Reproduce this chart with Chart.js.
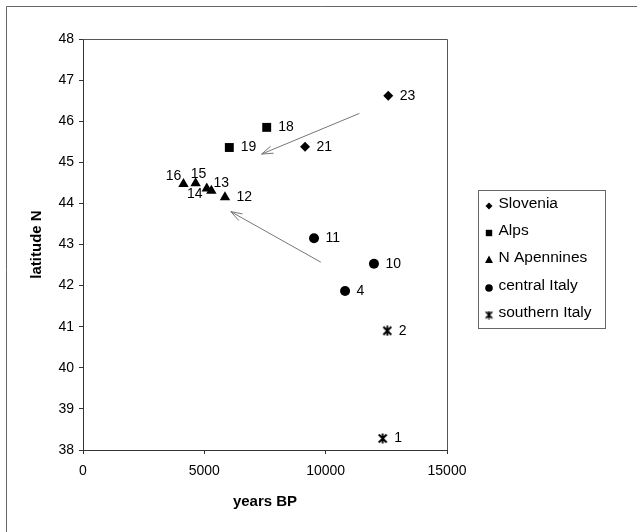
<!DOCTYPE html>
<html>
<head>
<meta charset="utf-8">
<script src="https://cdn.jsdelivr.net/npm/chart.js@4.4.1/dist/chart.umd.min.js"></script>
<style>
	html, body { margin: 0; padding: 0; background: #fff; }
</style>
</head>
<body>
<canvas id="latChart" width="637" height="532"></canvas>
<script>
// series: years BP (x) against latitude N (y), with site numbers
const sloveniaX = [12580, 9150];
const sloveniaY = [46.62, 45.38];
const sloveniaIds = ['23', '21'];

const alpsX = [7570, 6030];
const alpsY = [45.85, 45.36];
const alpsIds = ['18', '19'];

const apenninesX = [5850, 5290, 5100, 4640, 4140];
const apenninesY = [44.15, 44.31, 44.36, 44.49, 44.47];
const apenninesIds = ['12', '13', '14', '15', '16'];

const centralX = [9520, 11990, 10800];
const centralY = [43.15, 42.53, 41.87];
const centralIds = ['11', '10', '4'];

const southX = [12540, 12350];
const southY = [40.9, 38.28];
const southIds = ['2', '1'];

// trend arrows (data units), tail -> head
const arrowTailX = [11390, 9800];
const arrowTailY = [46.19, 42.57];
const arrowHeadX = [7360, 6090];
const arrowHeadY = [45.2, 43.8];

const FONT = "'Liberation Sans', Arial, sans-serif";

// asterisk marker for southern Italy
function makeStar(size, lw) {
	const c = document.createElement('canvas');
	c.width = size;
	c.height = size;
	const g = c.getContext('2d');
	g.strokeStyle = '#000';
	g.lineWidth = lw;
	const m = size / 2;
	const d = size * 0.36;
	g.beginPath();
	g.moveTo(m - d, m - d); g.lineTo(m + d, m + d);
	g.moveTo(m + d, m - d); g.lineTo(m - d, m + d);
	g.moveTo(m, 0.5); g.lineTo(m, size - 0.5);
	g.stroke();
	return c;
}
const starBig = makeStar(11, 1.9);
const starSmall = makeStar(9, 1.7);

function toPoints(xs, ys) {
	return xs.map((x, i) => ({ x: x, y: ys[i] }));
}

const seriesDefs = [
	{ label: 'Slovenia', xs: sloveniaX, ys: sloveniaY, ids: sloveniaIds, style: 'rectRot', radius: 5 },
	{ label: 'Alps', xs: alpsX, ys: alpsY, ids: alpsIds, style: 'rect', radius: 6.3 },
	{ label: 'N Apennines', xs: apenninesX, ys: apenninesY, ids: apenninesIds, style: 'triangle', radius: 6 },
	{ label: 'central Italy', xs: centralX, ys: centralY, ids: centralIds, style: 'circle', radius: 5 },
	{ label: 'southern Italy', xs: southX, ys: southY, ids: southIds, style: starBig, radius: 5 },
];

// where a site number sits relative to its marker (default: to the right)
const labelPlacement = {
	'16': [-10, -8, 'center'],
	'15': [3, -9, 'center'],
	'14': [-12, 6, 'center'],
	'13': [10, -8, 'center'],
};

const pointLabels = {
	id: 'pointLabels',
	afterDatasetsDraw(chart) {
		const ctx = chart.ctx;
		ctx.save();
		ctx.fillStyle = '#000';
		ctx.font = '14px ' + FONT;
		ctx.textBaseline = 'middle';
		chart.data.datasets.forEach((ds, di) => {
			const meta = chart.getDatasetMeta(di);
			meta.data.forEach((pt, i) => {
				const id = ds.ids[i];
				const p = labelPlacement[id] || [11.5, 0, 'left'];
				ctx.textAlign = p[2];
				ctx.fillText(id, pt.x + p[0], pt.y + p[1]);
			});
		});
		ctx.restore();
	},
};

const arrows = {
	id: 'arrows',
	afterDatasetsDraw(chart) {
		const ctx = chart.ctx;
		const xs = chart.scales.x;
		const ys = chart.scales.y;
		ctx.save();
		ctx.strokeStyle = '#777';
		ctx.lineWidth = 1;
		for (let i = 0; i < arrowTailX.length; i++) {
			const x0 = xs.getPixelForValue(arrowTailX[i]);
			const y0 = ys.getPixelForValue(arrowTailY[i]);
			const x1 = xs.getPixelForValue(arrowHeadX[i]);
			const y1 = ys.getPixelForValue(arrowHeadY[i]);
			const a = Math.atan2(y0 - y1, x0 - x1);
			const len = 12;
			const spread = 0.32;
			ctx.beginPath();
			ctx.moveTo(x0, y0);
			ctx.lineTo(x1, y1);
			ctx.moveTo(x1 + len * Math.cos(a - spread), y1 + len * Math.sin(a - spread));
			ctx.lineTo(x1, y1);
			ctx.lineTo(x1 + len * Math.cos(a + spread), y1 + len * Math.sin(a + spread));
			ctx.stroke();
		}
		ctx.restore();
	},
};

function drawMarker(ctx, style, x, y, r) {
	ctx.beginPath();
	if (style === 'rectRot') {
		ctx.moveTo(x, y - r); ctx.lineTo(x + r, y); ctx.lineTo(x, y + r); ctx.lineTo(x - r, y);
		ctx.closePath();
	} else if (style === 'rect') {
		ctx.rect(x - r, y - r, 2 * r, 2 * r);
	} else if (style === 'triangle') {
		ctx.moveTo(x, y - r * 1.1); ctx.lineTo(x + r, y + r * 0.75); ctx.lineTo(x - r, y + r * 0.75);
		ctx.closePath();
	} else if (style === 'circle') {
		ctx.arc(x, y, r, 0, Math.PI * 2);
	} else {
		ctx.drawImage(starSmall, x - 4.5, y - 4.5);
		return;
	}
	ctx.fill();
}

const frameAndLegend = {
	id: 'frameAndLegend',
	beforeDraw(chart) {
		const ctx = chart.ctx;
		ctx.save();
		ctx.fillStyle = '#fff';
		ctx.fillRect(0, 0, chart.width, chart.height);
		// scanned outer frame: only top and left edges survive
		ctx.strokeStyle = '#666';
		ctx.lineWidth = 1;
		ctx.beginPath();
		ctx.moveTo(6.5, 6.5); ctx.lineTo(637, 6.5);
		ctx.moveTo(6.5, 6.5); ctx.lineTo(6.5, 532);
		ctx.stroke();
		ctx.restore();
	},
	afterDraw(chart) {
		const ctx = chart.ctx;
		const a = chart.chartArea;
		ctx.save();
		ctx.strokeStyle = '#555';
		ctx.lineWidth = 1;
		ctx.beginPath();
		ctx.moveTo(a.left, a.top + 0.5); ctx.lineTo(a.right + 0.5, a.top + 0.5); ctx.lineTo(a.right + 0.5, a.bottom);
		ctx.stroke();

		// legend box
		const bx = 478.5, by = 190.5, bw = 127, bh = 138;
		ctx.strokeStyle = '#666';
		ctx.strokeRect(bx, by, bw, bh);
		ctx.font = '15.5px ' + FONT;
		ctx.textBaseline = 'middle';
		ctx.textAlign = 'left';
		ctx.fillStyle = '#000';
		const rowY = [204, 231, 258, 286, 313];
		const legendSizes = [3.5, 3.2, 4, 3.8, 0];
		chart.data.datasets.forEach((ds, i) => {
			drawMarker(ctx, ds.pointStyle, 489, rowY[i] + 2, legendSizes[i]);
			ctx.fillText(ds.label, 498.5, rowY[i]);
		});
		ctx.restore();
	},
};

new Chart(document.getElementById('latChart').getContext('2d'), {
	type: 'scatter',
	data: {
		datasets: seriesDefs.map((s) => ({
			label: s.label,
			data: toPoints(s.xs, s.ys),
			ids: s.ids,
			pointStyle: s.style,
			pointRadius: s.radius,
			pointHoverRadius: s.radius,
			backgroundColor: '#000',
			borderColor: '#000',
			borderWidth: 0,
		})),
	},
	options: {
		responsive: false,
		animation: false,
		layout: { padding: { top: 39, right: 190, left: 0, bottom: 0 } },
		scales: {
			x: {
				type: 'linear',
				min: 0,
				max: 15000,
				afterFit: (scale) => { scale.height = 82; },
				ticks: {
					stepSize: 5000,
					color: '#000',
					padding: 9,
					font: { family: FONT, size: 14 },
					callback: (v) => String(v),
				},
				grid: { drawOnChartArea: false, tickLength: 4, color: '#333' },
				border: { color: '#333', width: 1 },
				title: {
					display: true,
					text: 'years BP',
					color: '#000',
					font: { family: FONT, size: 15, weight: 'bold' },
					padding: { top: 0, bottom: 21 },
				},
			},
			y: {
				type: 'linear',
				min: 38,
				max: 48,
				afterFit: (scale) => { scale.width = 83; },
				ticks: { stepSize: 1, color: '#000', padding: 5, font: { family: FONT, size: 14 } },
				grid: { drawOnChartArea: false, tickLength: 4, color: '#333' },
				border: { color: '#333', width: 1 },
				title: {
					display: true,
					text: 'latitude N',
					color: '#000',
					font: { family: FONT, size: 15, weight: 'bold' },
					padding: { top: 28, bottom: 0 },
				},
			},
		},
		plugins: {
			legend: { display: false },
			tooltip: { enabled: false },
		},
	},
	plugins: [frameAndLegend, arrows, pointLabels],
});
</script>
</body>
</html>
